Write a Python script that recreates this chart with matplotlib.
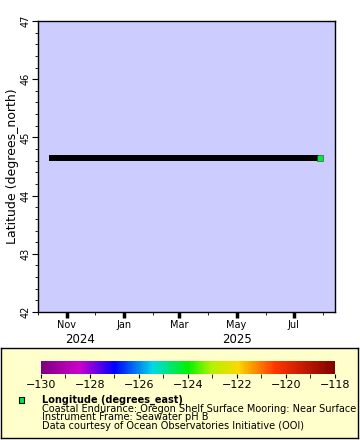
import matplotlib

matplotlib.use("Agg")
import matplotlib.dates as mdates
import matplotlib.pyplot as plt
import numpy as np
from matplotlib.colors import LinearSegmentedColormap
from datetime import datetime

# track of the mooring (latitude is constant)
times = [datetime(2024, 10, 13), datetime(2024, 12, 1), datetime(2025, 3, 1),
         datetime(2025, 6, 1), datetime(2025, 7, 28)]
lats = [44.64, 44.64, 44.64, 44.64, 44.64]
last_time = datetime(2025, 7, 29)
last_lat = 44.64
last_lon = -124.30

lon_min, lon_max = -130, -118
lat_min, lat_max = 42, 47
x_start, x_end = datetime(2024, 10, 1), datetime(2025, 8, 14)

legend_lines = [
    "Coastal Endurance: Oregon Shelf Surface Mooring: Near Surface",
    "Instrument Frame: Seawater pH B",
    "Data courtesy of Ocean Observatories Initiative (OOI)",
]

rainbow = LinearSegmentedColormap.from_list("erddap_rainbow", [
    (0.00, (0.50, 0.00, 0.50)),
    (0.13, (0.80, 0.00, 0.80)),
    (0.25, (0.00, 0.00, 1.00)),
    (0.38, (0.00, 0.85, 0.90)),
    (0.50, (0.00, 0.95, 0.00)),
    (0.58, (0.70, 0.95, 0.00)),
    (0.67, (0.98, 0.85, 0.00)),
    (0.80, (1.00, 0.20, 0.00)),
    (1.00, (0.50, 0.00, 0.00)),
])

W, H = 360, 440
fig = plt.figure(figsize=(W / 100, H / 100), dpi=100)
plt.rcParams["font.family"] = "DejaVu Sans"

ax = fig.add_axes([37.7 / W, (H - 312) / H, (335 - 37.7) / W, (312 - 21) / H])
ax.set_facecolor("#ccccff")
ax.plot(times, lats, color="black", lw=4.3, solid_capstyle="butt")
ax.scatter([last_time], [last_lat], c=[last_lon], cmap=rainbow, vmin=lon_min, vmax=lon_max,
           marker="s", s=16, edgecolors="#333333", linewidths=0.4, zorder=3)

ax.set_xlim(x_start, x_end)
ax.set_ylim(lat_min, lat_max)
ax.set_yticks(np.arange(lat_min, lat_max + 1, 1))
ax.set_yticks(np.arange(lat_min, lat_max + 0.01, 0.2), minor=True)
ax.tick_params(axis="y", which="major", length=4, labelsize=7, pad=1, labelrotation=90)
ax.tick_params(axis="y", which="minor", length=2.5)
for lab in ax.get_yticklabels():
    lab.set_va("center")

ax.xaxis.set_major_locator(mdates.MonthLocator(bymonth=[1, 3, 5, 7, 11]))
ax.xaxis.set_major_formatter(mdates.DateFormatter("%b"))
ax.xaxis.set_minor_locator(mdates.MonthLocator())
ax.tick_params(axis="x", which="major", length=4, labelsize=7, pad=2)
ax.tick_params(axis="x", which="minor", length=2.5)
for tick in ax.xaxis.get_major_ticks():
    if mdates.num2date(tick.get_loc()).month == 1:
        tick.tick1line.set_markeredgewidth(2.5)
for sp in ax.spines.values():
    sp.set_linewidth(1.0)
ax.set_ylabel("Latitude (degrees_north)", fontsize=9, labelpad=1)

ax.text(mdates.date2num(datetime(2024, 11, 15)), -0.095, "2024", transform=ax.get_xaxis_transform(),
        ha="center", va="center", fontsize=8.5)
ax.text(mdates.date2num(datetime(2025, 5, 1)), -0.095, "2025", transform=ax.get_xaxis_transform(),
        ha="center", va="center", fontsize=8.5)

# legend panel
leg = fig.add_axes([1 / W, 2 / H, 357 / W, (438 - 348) / H])
leg.set_facecolor("#ffffcc")
leg.set_xticks([])
leg.set_yticks([])
for sp in leg.spines.values():
    sp.set_linewidth(1.0)

cax = fig.add_axes([41 / W, (H - 374) / H, (335 - 41) / W, 13 / H])
cb = fig.colorbar(matplotlib.cm.ScalarMappable(norm=matplotlib.colors.Normalize(lon_min, lon_max), cmap=rainbow),
                  cax=cax, orientation="horizontal")
cb.outline.set_visible(False)
cb.set_ticks(np.arange(lon_min, lon_max + 1, 2))
cb.set_ticks(np.arange(lon_min, lon_max + 1, 1), minor=True)
cax.tick_params(axis="x", which="both", length=3, labelsize=8, pad=1)

fig.patches.append(plt.Rectangle((18.5 / W, 1 - 402.5 / H), 5.5 / W, 5.5 / H, transform=fig.transFigure,
                                 facecolor=rainbow((last_lon - lon_min) / (lon_max - lon_min)),
                                 edgecolor="black", lw=0.8))
fig.text(42 / W, 1 - 399.5 / H, "Longitude (degrees_east)", fontsize=7, fontweight="bold", va="center")
for i, line in enumerate(legend_lines):
    fig.text(42 / W, 1 - (408.5 + 8.7 * i) / H, line, fontsize=7, va="center")

fig.savefig("out.png", dpi=100)
